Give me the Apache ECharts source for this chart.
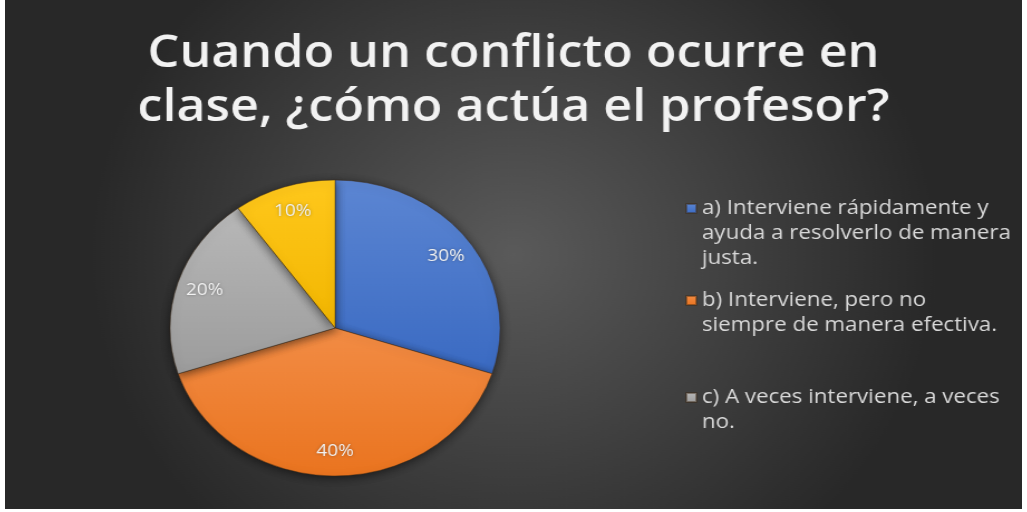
<!DOCTYPE html>
<html>
<head>
<meta charset="utf-8">
<script src="https://cdn.jsdelivr.net/npm/echarts@6/dist/echarts.min.js"></script>
<style>
  html, body { margin: 0; padding: 0; background: #fff; width: 1027px; height: 512px; overflow: hidden; }
  #wrap { position: absolute; left: 5px; top: 0; width: 1017px; height: 509px; overflow: hidden; }
  /* the original picture is stretched sideways, so the chart is drawn narrow and widened */
  #main { width: 912px; height: 509px; transform: scaleX(1.1151); transform-origin: 0 0; }
</style>
</head>
<body>
<div id="wrap"><div id="main"></div></div>
<script>
var titleText = 'Cuando un conflicto ocurre en\nclase, ¿cómo actúa el profesor?';
var categories = [
  'a) Interviene rápidamente y ayuda a resolverlo de manera justa.',
  'b) Interviene, pero no siempre de manera efectiva.',
  'c) A veces interviene, a veces no.',
  'd) No interviene.'
];
var values = [30, 40, 20, 10];
var legendLines = [
  ['a) Interviene rápidamente y', 'ayuda a resolverlo de manera', 'justa.'],
  ['b) Interviene, pero no', 'siempre de manera efectiva.'],
  ['c) A veces interviene, a veces', 'no.']
];
var colorsTop = ['#5c86d3', '#f28c45', '#b8b8b8', '#ffc81c'];
var colorsBottom = ['#3a6ac2', '#ea741f', '#9c9c9c', '#f2b600'];

var chart = echarts.init(document.getElementById('main'));

var pieData = categories.map(function (name, i) {
  return {
    name: name,
    value: values[i],
    itemStyle: {
      color: new echarts.graphic.LinearGradient(0, 0, 0, 1, [
        { offset: 0, color: colorsTop[i] },
        { offset: 1, color: colorsBottom[i] }
      ])
    }
  };
});

// one legend per item so every block can sit where the original has it;
// blank lines in front keep the square level with the first text line
var legendTops = [146, 263, 360];
var legends = legendLines.map(function (lines, i) {
  return {
    data: [categories[i]],
    orient: 'vertical',
    left: 610,
    top: legendTops[i],
    padding: 0,
    itemWidth: 9,
    itemHeight: 9,
    icon: 'rect',
    selectedMode: false,
    formatter: function () {
      var pad = '';
      for (var k = 1; k < lines.length; k++) pad += '\n';
      return pad + lines.join('\n');
    },
    textStyle: {
      color: '#d9d9d9',
      fontFamily: 'Open Sans',
      fontSize: 20,
      lineHeight: 25
    }
  };
});

var option = {
  backgroundColor: {
    type: 'radial', x: 0.5, y: 0.5, r: 0.75,
    colorStops: [
      { offset: 0, color: '#5a5a5a' },
      { offset: 1, color: '#282828' }
    ]
  },
  animation: false,
  title: {
    text: titleText,
    left: 'center',
    top: 22,
    textStyle: {
      color: '#f2f2f2',
      fontFamily: 'Open Sans',
      fontWeight: 600,
      fontSize: 45,
      lineHeight: 54
    }
  },
  legend: legends,
  series: [
    {
      type: 'pie',
      center: [296, 328],
      radius: [0, 148],
      startAngle: 90,
      clockwise: true,
      silent: true,
      label: { show: false },
      labelLine: { show: false },
      itemStyle: {
        borderColor: 'rgba(60,40,20,0.45)',
        borderWidth: 1,
        shadowBlur: 10,
        shadowColor: 'rgba(0,0,0,0.55)',
        shadowOffsetY: 2
      },
      data: pieData
    },
    {
      // transparent ring only used to place the percentage labels
      type: 'pie',
      center: [296, 328],
      radius: [92, 148],
      startAngle: 90,
      clockwise: true,
      silent: true,
      itemStyle: { color: 'rgba(0,0,0,0)' },
      label: {
        show: true,
        position: 'inside',
        formatter: '{c}%',
        color: '#f2f2f2',
        fontFamily: 'Open Sans',
        fontSize: 17,
        textShadowColor: 'rgba(0,0,0,0.35)',
        textShadowBlur: 3
      },
      labelLine: { show: false },
      data: categories.map(function (name, i) { return { name: name, value: values[i] }; })
    }
  ]
};

chart.setOption(option);
</script>
</body>
</html>
